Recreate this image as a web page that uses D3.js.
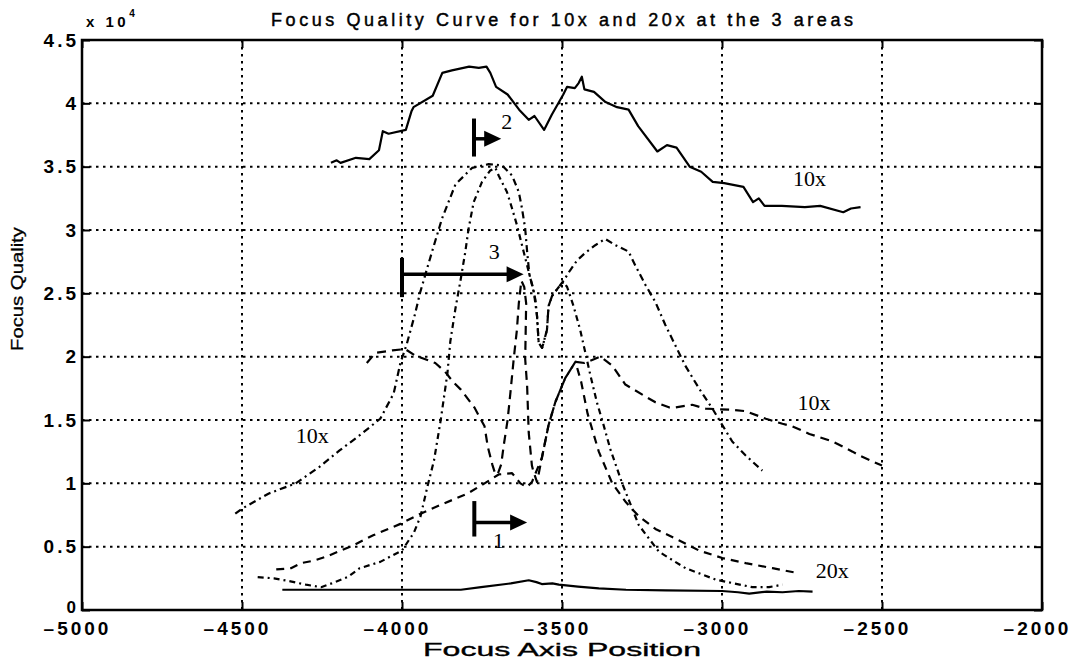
<!DOCTYPE html>
<html>
<head>
<meta charset="utf-8">
<script src="https://cdn.jsdelivr.net/npm/d3@7"></script>
<style>
  body { margin: 0; background: #fff; }
  svg { display: block; }
  .tick-label { font-family: "Liberation Sans", Arial, sans-serif; font-weight: bold; font-size: 19px; letter-spacing: 3px; fill: #000; }
  .serif { font-family: "Liberation Serif", "Times New Roman", serif; fill: #000; }
</style>
</head>
<body>
<svg id="chart" width="1074" height="664"></svg>
<script>
// ── Axis ticks ──
const xTicks = [-5000, -4500, -4000, -3500, -3000, -2500, -2000]
const yTicks = [0, 0.5, 1, 1.5, 2, 2.5, 3, 3.5, 4, 4.5]   // in units of 10^4

// ── Curves: [focus axis position, focus quality / 10^4] ──
const area2_10x = [
  [-4222, 3.53], [-4204, 3.55], [-4192, 3.53], [-4144, 3.57], [-4102, 3.56], [-4072, 3.63],
  [-4060, 3.78], [-4042, 3.76], [-3988, 3.79], [-3970, 3.94], [-3964, 3.97], [-3904, 4.06],
  [-3874, 4.24], [-3844, 4.26], [-3790, 4.29], [-3760, 4.28], [-3736, 4.29], [-3724, 4.24],
  [-3706, 4.13], [-3670, 4.07], [-3634, 3.95], [-3604, 3.87], [-3586, 3.90], [-3556, 3.79],
  [-3532, 3.91], [-3496, 4.07], [-3484, 4.13], [-3460, 4.12], [-3448, 4.16], [-3438, 4.21],
  [-3430, 4.11], [-3400, 4.09], [-3364, 4.01], [-3328, 3.97], [-3292, 3.95], [-3262, 3.82],
  [-3202, 3.62], [-3172, 3.67], [-3142, 3.65], [-3101, 3.50], [-3065, 3.46], [-3029, 3.38],
  [-2993, 3.37], [-2933, 3.34], [-2903, 3.22], [-2885, 3.25], [-2867, 3.19], [-2813, 3.19],
  [-2741, 3.18], [-2693, 3.19], [-2621, 3.14], [-2597, 3.17], [-2567, 3.18]
]
const area2_20x = [
  [-4374, 0.16], [-4100, 0.16], [-3816, 0.16], [-3753, 0.18], [-3660, 0.21], [-3604, 0.235],
  [-3580, 0.22], [-3563, 0.205], [-3530, 0.21], [-3510, 0.2], [-3450, 0.185], [-3385, 0.17],
  [-3300, 0.16], [-3176, 0.155], [-3000, 0.15], [-2950, 0.14], [-2915, 0.13], [-2860, 0.145],
  [-2811, 0.14], [-2760, 0.15], [-2717, 0.145]
]
const area3_10x = [
  [-4521, 0.76], [-4500, 0.80], [-4416, 0.92], [-4332, 1.0], [-4258, 1.13], [-4195, 1.26],
  [-4132, 1.38], [-4068, 1.51], [-4026, 1.71], [-4005, 1.95], [-3985, 2.1], [-3960, 2.33],
  [-3943, 2.51], [-3906, 2.83], [-3875, 3.09], [-3833, 3.36], [-3781, 3.49], [-3729, 3.52],
  [-3687, 3.51], [-3656, 3.43], [-3635, 3.3], [-3625, 3.17], [-3615, 3.01], [-3609, 2.83],
  [-3602, 2.65], [-3594, 2.57], [-3583, 2.45], [-3578, 2.32], [-3573, 2.11], [-3562, 2.07],
  [-3547, 2.21], [-3542, 2.4], [-3531, 2.48], [-3510, 2.55], [-3495, 2.6], [-3475, 2.68],
  [-3453, 2.76], [-3427, 2.82], [-3396, 2.88], [-3365, 2.93], [-3333, 2.88], [-3292, 2.83],
  [-3271, 2.72], [-3240, 2.57], [-3208, 2.43], [-3177, 2.25], [-3146, 2.09], [-3115, 1.93],
  [-3072, 1.75], [-3030, 1.59], [-2999, 1.46], [-2968, 1.33], [-2926, 1.22], [-2874, 1.1]
]
const area3_20x = [
  [-4451, 0.26], [-4400, 0.25], [-4357, 0.23], [-4300, 0.2], [-4253, 0.18], [-4220, 0.21],
  [-4170, 0.26], [-4132, 0.33], [-4068, 0.38], [-4000, 0.47], [-3963, 0.61], [-3942, 0.74],
  [-3921, 0.97], [-3900, 1.18], [-3879, 1.5], [-3858, 1.87], [-3849, 2.12], [-3833, 2.38],
  [-3818, 2.59], [-3802, 2.83], [-3792, 3.01], [-3776, 3.22], [-3750, 3.38], [-3724, 3.47],
  [-3708, 3.49], [-3698, 3.43], [-3672, 3.3], [-3656, 3.17], [-3641, 3.04], [-3630, 2.93],
  [-3620, 2.83], [-3609, 2.72], [-3599, 2.62], [-3589, 2.53], [-3578, 2.32], [-3573, 2.11],
  [-3562, 2.07], [-3547, 2.21], [-3542, 2.4], [-3531, 2.48], [-3510, 2.55], [-3495, 2.59],
  [-3484, 2.55], [-3464, 2.4], [-3443, 2.21], [-3427, 2.03], [-3411, 1.85], [-3391, 1.64],
  [-3370, 1.46], [-3349, 1.27], [-3312, 1.0], [-3260, 0.67], [-3197, 0.46], [-3114, 0.33],
  [-3020, 0.24], [-2905, 0.18], [-2853, 0.18], [-2811, 0.2]
]
const area1_10x = [
  [-4110, 1.95], [-4083, 2.03], [-4030, 2.05], [-3990, 2.06], [-3960, 2.01], [-3938, 1.99],
  [-3896, 1.95], [-3865, 1.88], [-3840, 1.8], [-3816, 1.74], [-3774, 1.6], [-3742, 1.45],
  [-3732, 1.29], [-3718, 1.15], [-3708, 1.07], [-3700, 1.08], [-3690, 1.15], [-3682, 1.3],
  [-3670, 1.5], [-3661, 1.72], [-3651, 1.98], [-3641, 2.21], [-3635, 2.42], [-3627, 2.6],
  [-3618, 2.55], [-3612, 2.42], [-3615, 1.98], [-3609, 1.77], [-3604, 1.4], [-3594, 1.14],
  [-3589, 1.09], [-3578, 1.01], [-3563, 1.2], [-3542, 1.46], [-3521, 1.64], [-3490, 1.83],
  [-3458, 1.96], [-3430, 1.95], [-3400, 1.98], [-3380, 2.0], [-3343, 1.93], [-3302, 1.78],
  [-3249, 1.7], [-3208, 1.64], [-3166, 1.6], [-3145, 1.6], [-3093, 1.62], [-3051, 1.59],
  [-2968, 1.58], [-2926, 1.57], [-2863, 1.51], [-2811, 1.47], [-2780, 1.45], [-2727, 1.39],
  [-2654, 1.33], [-2592, 1.25], [-2571, 1.22], [-2500, 1.14]
]
const area1_20x = [
  [-4393, 0.32], [-4347, 0.33], [-4316, 0.37], [-4275, 0.39], [-4238, 0.42], [-4200, 0.46],
  [-4153, 0.51], [-4090, 0.59], [-4005, 0.68], [-3942, 0.76], [-3879, 0.83], [-3795, 0.92],
  [-3742, 1.0], [-3698, 1.07], [-3656, 1.08], [-3630, 1.0], [-3610, 0.97], [-3594, 1.01],
  [-3563, 1.2], [-3542, 1.46], [-3521, 1.64], [-3490, 1.83], [-3458, 1.96], [-3440, 1.8],
  [-3420, 1.55], [-3385, 1.25], [-3343, 1.0], [-3300, 0.85], [-3260, 0.74], [-3208, 0.64],
  [-3135, 0.55], [-3072, 0.47], [-2999, 0.41], [-2926, 0.37], [-2842, 0.33], [-2759, 0.29]
]

// ── Annotations (data coordinates) ──
const curveLabels = [
  { text: '10x', x: -2778, y: 3.35 },
  { text: '10x', x: -2764, y: 1.58 },
  { text: '10x', x: -4332, y: 1.32 },
  { text: '20x', x: -2707, y: 0.25 },
  { text: '1', x: -3716, y: 0.49 },
  { text: '2', x: -3690, y: 3.8 },
  { text: '3', x: -3729, y: 2.77 }
]
// vertical bar at x0 spanning [yLo, yHi], arrow from x0 to x1 at y
const arrows = [
  { x0: -3775, x1: -3690, y: 3.72, yLo: 3.58, yHi: 3.88 },
  { x0: -4000, x1: -3620, y: 2.65, yLo: 2.47, yHi: 2.78 },
  { x0: -3774, x1: -3609, y: 0.69, yLo: 0.58, yHi: 0.86 }
]

const margin = { top: 40, right: 32, bottom: 54, left: 82 }
const width = 1074, height = 664
const svg = d3.select('#chart')

const x = d3.scaleLinear().domain([-5000, -2000]).range([margin.left, width - margin.right])
const y = d3.scaleLinear().domain([0, 4.5]).range([height - margin.bottom, margin.top])

// Grid (MATLAB-style dotted)
const grid = svg.append('g').attr('stroke', '#000').attr('stroke-width', 2).attr('stroke-dasharray', '2.5,4.5')
grid.selectAll('.gx').data(xTicks.slice(1, -1)).join('line')
  .attr('x1', d => x(d)).attr('x2', d => x(d)).attr('y1', y(4.5)).attr('y2', y(0))
grid.selectAll('.gy').data(yTicks.slice(1, -1)).join('line')
  .attr('y1', d => y(d)).attr('y2', d => y(d)).attr('x1', x(-5000)).attr('x2', x(-2000))

// Curves
const line = d3.line().x(d => x(d[0])).y(d => y(d[1]))
const series = [
  { data: area2_10x, dash: null },
  { data: area2_20x, dash: null },
  { data: area3_10x, dash: '7,4,2,4' },
  { data: area3_20x, dash: '6,4,2,4' },
  { data: area1_10x, dash: '9,6' },
  { data: area1_20x, dash: '8,6' }
]
svg.append('g').selectAll('path').data(series).join('path')
  .attr('d', d => line(d.data))
  .attr('fill', 'none')
  .attr('stroke', '#000')
  .attr('stroke-width', 2.2)
  .attr('stroke-linejoin', 'round')
  .attr('stroke-dasharray', d => d.dash)

// Axes: ticks point inward on all four sides
const fmtX = d => (d < 0 ? '\u2013' : '') + Math.abs(d)
const fmtY = d => String(d)
svg.append('g').attr('transform', `translate(0,${y(0)})`)
  .call(d3.axisBottom(x).tickValues(xTicks).tickSize(-8).tickPadding(12).tickFormat(fmtX))
svg.append('g').attr('transform', `translate(0,${y(4.5)})`)
  .call(d3.axisTop(x).tickValues(xTicks).tickSize(-8).tickFormat(''))
svg.append('g').attr('transform', `translate(${x(-5000)},0)`)
  .call(d3.axisLeft(y).tickValues(yTicks).tickSize(-8).tickPadding(3).tickFormat(fmtY))
svg.append('g').attr('transform', `translate(${x(-2000)},0)`)
  .call(d3.axisRight(y).tickValues(yTicks).tickSize(-8).tickFormat(''))

svg.selectAll('.domain').remove()
svg.selectAll('.tick line').attr('stroke', '#000').attr('stroke-width', 2)
svg.selectAll('.tick text').attr('class', 'tick-label').attr('font-family', null).attr('font-size', null)
svg.selectAll('.tick text').filter(function () { return this.textContent.startsWith('\u2013') })
  .attr('dx', -5)
svg.selectAll('.tick text').filter(function () { return this.textContent === '0' })
  .attr('dy', '0.15em').style('font-size', '17px')

// Frame
svg.append('rect')
  .attr('x', x(-5000)).attr('y', y(4.5))
  .attr('width', x(-2000) - x(-5000)).attr('height', y(0) - y(4.5))
  .attr('fill', 'none').attr('stroke', '#000').attr('stroke-width', 2.5)

// Exponent
const expo = svg.append('text').attr('x', 86).attr('y', 27)
  .attr('font-family', 'Liberation Sans, Arial, sans-serif').attr('font-weight', 'bold')
  .attr('font-size', 15).attr('letter-spacing', 3.5)
expo.append('tspan').text('x 10')
expo.append('tspan').attr('dy', -10).attr('font-size', 10).text('4')

// Title and axis titles
svg.append('text').attr('x', (x(-5000) + x(-2000)) / 2).attr('y', 26)
  .attr('text-anchor', 'middle').attr('font-family', 'Liberation Sans, Arial, sans-serif')
  .attr('font-size', 18).attr('stroke', '#000').attr('stroke-width', 0.45)
  .attr('textLength', 582).attr('lengthAdjust', 'spacing')
  .text('Focus Quality Curve for 10x and 20x at the 3 areas')
svg.append('text').attr('x', (x(-5000) + x(-2000)) / 2).attr('y', 656)
  .attr('text-anchor', 'middle').attr('font-family', 'Liberation Sans, Arial, sans-serif')
  .attr('font-size', 19).attr('stroke', '#000').attr('stroke-width', 0.35)
  .attr('textLength', 278).attr('lengthAdjust', 'spacingAndGlyphs')
  .text('Focus Axis Position')
svg.append('text').attr('transform', `translate(23,289) rotate(-90)`)
  .attr('text-anchor', 'middle').attr('font-family', 'Liberation Sans, Arial, sans-serif')
  .attr('font-size', 17).attr('stroke', '#000').attr('stroke-width', 0.3)
  .attr('textLength', 124).attr('lengthAdjust', 'spacingAndGlyphs')
  .text('Focus Quality')

// Curve labels
svg.append('g').selectAll('text').data(curveLabels).join('text')
  .attr('class', 'serif')
  .attr('x', d => x(d.x)).attr('y', d => y(d.y))
  .attr('font-size', 22)
  .text(d => d.text)

// Arrows
const ag = svg.append('g').attr('stroke', '#000').attr('fill', '#000')
arrows.forEach(a => {
  ag.append('line').attr('x1', x(a.x0)).attr('x2', x(a.x0)).attr('y1', y(a.yLo)).attr('y2', y(a.yHi)).attr('stroke-width', 4)
  ag.append('line').attr('x1', x(a.x0)).attr('x2', x(a.x1) - 12).attr('y1', y(a.y)).attr('y2', y(a.y)).attr('stroke-width', 3.5)
  const tx = x(a.x1), ty = y(a.y)
  ag.append('path').attr('stroke', 'none')
    .attr('d', `M${tx},${ty} L${tx - 17},${ty - 8} L${tx - 17},${ty + 8} Z`)
})
</script>
</body>
</html>
